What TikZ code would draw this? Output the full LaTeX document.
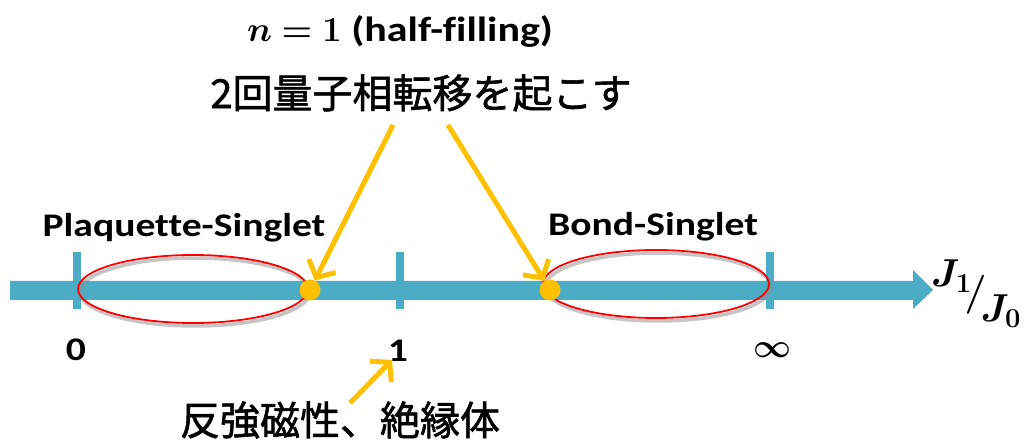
\RequirePackage{fix-cm}
\documentclass[tikz,border=0pt]{standalone}
\usepackage{fontspec}
\usepackage{bm}
\setmainfont{Carlito}[FakeStretch=1.2, Ligatures=NoCommon]
\newfontfamily\cjk{Noto Sans CJK JP}[FakeBold=1.4]
\usetikzlibrary{arrows.meta}
\definecolor{axisblue}{HTML}{4BACC6}
\definecolor{dotorange}{HTML}{FFC000}
\begin{document}
\begin{tikzpicture}[x=1pt,y=-1pt,
  lbl/.style={font=\fontsize{33}{38}\selectfont\bfseries, inner sep=0pt},
  cj/.style={font=\fontsize{40}{44}\selectfont\cjk, inner sep=0pt},
  mth/.style={font=\fontsize{39}{44}\selectfont, inner sep=0pt},
  tickmark/.style={axisblue, line width=8pt},
  ptr/.style={dotorange, line width=5pt, -{Straight Barb[length=13pt,width=30pt]}},
  ring/.style={red, line width=1.8pt},
  ringshadow/.style={black!45, line width=3.5pt, opacity=0.5},
  dotstyle/.style={circle, fill=dotorange, minimum size=21pt, inner sep=0pt}]
\useasboundingbox (0,0) rectangle (1029,446);
% axis
\fill[axisblue] (10,281) -- (913,281) -- (913,270) -- (933,290) -- (913,309) -- (913,300) -- (10,300) -- cycle;
\draw[tickmark] (77,252) -- (77,309);
\draw[tickmark] (400,252) -- (400,309);
\draw[tickmark] (770,252) -- (770,309);
% ellipses
\draw[ringshadow] (195,292) ellipse [x radius=115pt, y radius=34pt];
\draw[ring] (193,289) ellipse [x radius=115pt, y radius=34pt];
\draw[ringshadow] (658,287) ellipse [x radius=113pt, y radius=34pt];
\draw[ring] (656,284) ellipse [x radius=113pt, y radius=34pt];
% dots
\node[dotstyle] (dot1) at (310,290) {};
\node[dotstyle] (dot2) at (550,290) {};
% texts
\node[lbl, anchor=base, font=\fontsize{35}{40}\selectfont\bfseries] (nline) at (400,42) {$\bm{n=1}$ (half-filling)};
\node[cj] (qpt) at (421,93) {2回量子相転移を起こす};
\node[lbl, anchor=base] (ps) at (184,237) {Plaquette-Singlet};
\node[lbl, anchor=base] (bs) at (653,236) {Bond-Singlet};
\node[lbl, anchor=base] (zero) at (76,361) {0};
\node[lbl, anchor=base] (one) at (398,362) {1};
\node[lbl] (inf) at (772,350) {$\bm{\infty}$};
\node[mth, anchor=base west] (ratio) at (931,305)
  {\raisebox{18pt}{$\bm{J_1}$}\kern-7pt$\bm{/}$\kern-6pt\raisebox{-17pt}{$\bm{J_0}$}};
\node[cj] (afm) at (340,420) {反強磁性、絶縁体};
% pointers
\coordinate (p1) at (393,125);
\coordinate (p2) at (448,125);
\coordinate (p3) at (350,403);
\coordinate (p3e) at (392,360);
\draw[ptr] (p1) -- (dot1);
\draw[ptr] (p2) -- (dot2);
\draw[ptr] (p3) -- (p3e);
\end{tikzpicture}
\end{document}
